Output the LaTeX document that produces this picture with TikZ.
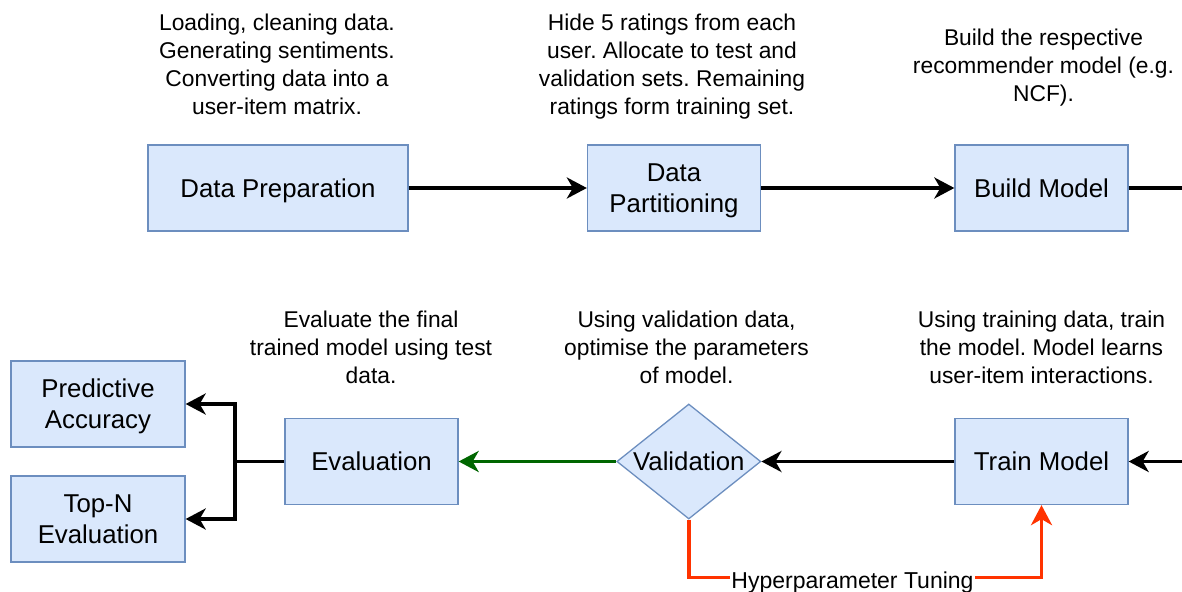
\documentclass[tikz,border=0pt]{standalone}
\usepackage{fontspec}
\setmainfont{Liberation Sans}
\usetikzlibrary{arrows.meta,shapes.geometric}
\definecolor{boxfill}{HTML}{DAE8FC}
\definecolor{boxdraw}{HTML}{6C8EBF}
\definecolor{tuning}{HTML}{FF3300}
\definecolor{evalgreen}{HTML}{006600}
% one text line whose box is exactly cap height tall, with no depth
\newcommand{\cl}[1]{\rule{0pt}{0.716em}\smash{#1}}
\frenchspacing
\begin{document}
\begin{tikzpicture}[x=1pt,y=-1pt,
  box/.style={draw=boxdraw, fill=boxfill, line width=1.3pt, minimum width=173pt,
    minimum height=86pt, align=center, inner sep=0pt,
    font=\fontsize{25.8}{31}\selectfont},
  decision/.style={diamond, draw=boxdraw, fill=boxfill, line width=1.3pt,
    minimum width=144pt, minimum height=115pt, inner sep=0pt},
  note/.style={align=center, inner sep=0pt, font=\fontsize{22.8}{28}\selectfont},
  flowline/.style={line width=3.5pt},
  flow/.style={flowline, -{Stealth[length=20pt,width=21pt,inset=6pt]}},
]
\useasboundingbox (0,0) rectangle (1182,591);

% top row
\node[box, minimum width=260pt] (prep) at (278,188) {\cl{Data Preparation}};
\node[box] (part) at (674,188) {\cl{Data}\\\cl{Partitioning}};
\node[box] (build) at (1041.5,188) {\cl{Build Model}};

% bottom row
\node[box] (train) at (1041.5,461.5) {\cl{Train Model}};
\node[decision] (val) at (688.8,461.5) {};
\node[font=\fontsize{25.8}{31}\selectfont, inner sep=0pt] (valtxt) at (val) {\cl{Validation}};
\node[box] (eval) at (371.5,461.5) {\cl{Evaluation}};
\node[box, minimum width=174pt] (pa) at (98,404) {\cl{Predictive}\\\cl{Accuracy}};
\node[box, minimum width=174pt] (topn) at (98,519) {\cl{Top-N}\\\cl{Evaluation}};

% notes
\node[note] (n1) at (277,64) {\cl{Loading, cleaning data.}\\\cl{Generating sentiments.}\\\cl{Converting data into a}\\\cl{user-item matrix.}};
\node[note] (n2) at (672,64) {\cl{Hide 5 ratings from each}\\\cl{user. Allocate to test and}\\\cl{validation sets. Remaining}\\\cl{ratings form training set.}};
\node[note] (n3) at (1043.5,65) {\cl{Build the respective}\\\cl{recommender model (e.g.}\\\cl{NCF).}};
\node[note] (n4) at (371,347) {\cl{Evaluate the final}\\\cl{trained model using test}\\\cl{data.}};
\node[note] (n5) at (686.5,347) {\cl{Using validation data,}\\\cl{optimise the parameters}\\\cl{of model.}};
\node[note] (n6) at (1041.5,347) {\cl{Using training data, train}\\\cl{the model. Model learns}\\\cl{user-item interactions.}};

% connectors
\coordinate (outR) at (1195,188);
\coordinate (inR) at (1195,461.5);
\coordinate (br) at (235,461.5);
\draw[flow] (prep) -- (part);
\draw[flow] (part) -- (build);
\draw[flowline] (build.east) -- (outR);
\draw[flow] (inR) -- (train.east);
\draw[flow] (train.west) -- (val.east);
\draw[flow, evalgreen] (val.west) -- (eval.east);
\draw[flowline] (eval.west) -- (br);
\draw[flow] (br) |- (pa.east);
\draw[flow] (br) |- (topn.east);
\draw[flow, tuning] (val.south) -- ++(0,58) -| (train.south);
\node[fill=white, inner xsep=1pt, inner ysep=0pt, anchor=base,
  font=\fontsize{23}{28}\selectfont] (tune) at (852.5,588.5) {Hyperparameter Tuning};
\end{tikzpicture}
\end{document}
